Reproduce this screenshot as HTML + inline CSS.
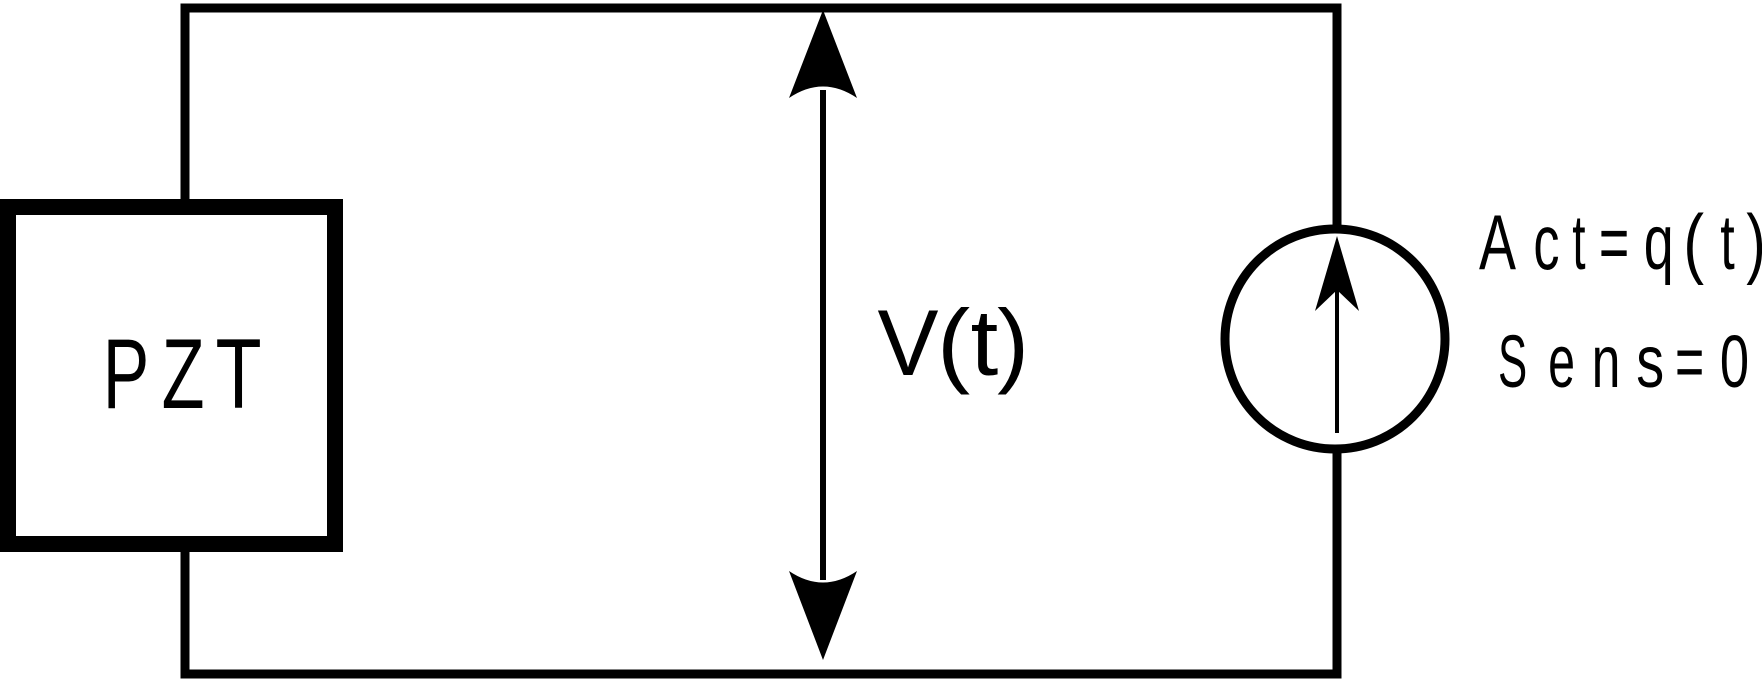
<!DOCTYPE html>
<html><head><style>html,body{margin:0;padding:0;background:#fff;}svg{display:block}</style></head>
<body>
<svg width="1762" height="690" viewBox="0 0 1762 690" xmlns="http://www.w3.org/2000/svg">
<g fill="none" stroke="#000">
<polyline points="185,206 185,8 1337,8 1337,227" stroke-width="9"/>
<polyline points="185,544 185,674 1337,674 1337,451" stroke-width="9"/>
<rect x="8" y="207" width="327" height="337" stroke-width="16" fill="#fff"/>
<circle cx="1335" cy="339" r="110" stroke-width="9"/>
<line x1="823" y1="90" x2="823" y2="580" stroke-width="6"/>
<line x1="1337" y1="290" x2="1337" y2="433" stroke-width="4"/>
</g>
<path d="M823,10 L857,98 Q823,75 789,98 Z" fill="#000"/>
<path d="M823,660 L857,571 Q823,594 789,571 Z" fill="#000"/>
<path d="M1337,236 L1359,311 L1337,290 L1315,311 Z" fill="#000"/>
<g font-family="Liberation Sans, sans-serif" fill="#000">
<g font-size="99">
<text x="102.8" y="408" textLength="46.5" lengthAdjust="spacingAndGlyphs">P</text>
<text x="161.6" y="408" textLength="42.9" lengthAdjust="spacingAndGlyphs">Z</text>
<text x="215.5" y="408" textLength="46.1" lengthAdjust="spacingAndGlyphs">T</text>
</g>
<g font-size="94">
<text x="877.5" y="375" textLength="61" lengthAdjust="spacingAndGlyphs">V</text>
<text x="937" y="375" textLength="33.2" lengthAdjust="spacingAndGlyphs">(</text>
<text x="970.5" y="375" textLength="27.8" lengthAdjust="spacingAndGlyphs">t</text>
<text x="997.1" y="375" textLength="31.9" lengthAdjust="spacingAndGlyphs">)</text>
</g>
<g font-size="78">
<text x="1479" y="269" textLength="37" lengthAdjust="spacingAndGlyphs">A</text>
<text x="1533.4" y="269" textLength="26.1" lengthAdjust="spacingAndGlyphs">c</text>
<text x="1572.3" y="269" textLength="13.3" lengthAdjust="spacingAndGlyphs">t</text>
<text x="1598.9" y="269" textLength="30.4" lengthAdjust="spacingAndGlyphs">=</text>
<text x="1643.8" y="269" textLength="29.9" lengthAdjust="spacingAndGlyphs">q</text>
<text x="1683.3" y="269" textLength="20.8" lengthAdjust="spacingAndGlyphs">(</text>
<text x="1720.2" y="269" textLength="14.5" lengthAdjust="spacingAndGlyphs">t</text>
<text x="1746.2" y="269" textLength="19.5" lengthAdjust="spacingAndGlyphs">)</text>
</g>
<g font-size="74">
<text x="1498" y="387" textLength="29.2" lengthAdjust="spacingAndGlyphs">S</text>
<text x="1548.1" y="387" textLength="26.9" lengthAdjust="spacingAndGlyphs">e</text>
<text x="1591.6" y="387" textLength="28.8" lengthAdjust="spacingAndGlyphs">n</text>
<text x="1636.3" y="387" textLength="27.9" lengthAdjust="spacingAndGlyphs">s</text>
<text x="1675" y="387" textLength="29.2" lengthAdjust="spacingAndGlyphs">=</text>
<text x="1719.9" y="387" textLength="29.2" lengthAdjust="spacingAndGlyphs">0</text>
</g>
</g>
</svg>
</body></html>
